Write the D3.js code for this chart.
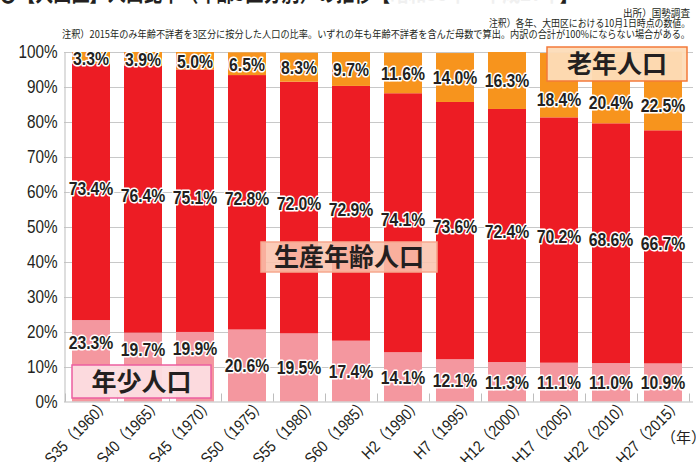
<!DOCTYPE html>
<html lang="ja"><head>
<meta charset="utf-8">
<title>大田区 人口比率の推移</title>
<script src="https://cdnjs.cloudflare.com/ajax/libs/d3/7.8.5/d3.min.js"></script>
<style>
body{margin:0;background:#fff;}
svg text{font-family:"Liberation Sans","Noto Sans CJK JP",sans-serif;fill:#231f20;}
svg text.jp{font-family:"Noto Sans CJK JP",sans-serif;}
.val{font-weight:bold;font-size:19px;stroke:#fff;stroke-width:3px;paint-order:stroke;stroke-linejoin:round;}
</style>
</head>
<body>
<svg id="chart" width="696" height="462"></svg>
<script>
// 年（和暦・西暦）
var years = ["S35（1960）","S40（1965）","S45（1970）","S50（1975）","S55（1980）","S60（1985）",
             "H2（1990）","H7（1995）","H12（2000）","H17（2005）","H22（2010）","H27（2015）"];
// 年少人口・生産年齢人口・老年人口 (%)
var young   = [23.3, 19.7, 19.9, 20.6, 19.5, 17.4, 14.1, 12.1, 11.3, 11.1, 11.0, 10.9];
var working = [73.4, 76.4, 75.1, 72.8, 72.0, 72.9, 74.1, 73.6, 72.4, 70.2, 68.6, 66.7];
var elderly = [ 3.3,  3.9,  5.0,  6.5,  8.3,  9.7, 11.6, 14.0, 16.3, 18.4, 20.4, 22.5];
var yTicks = [0,10,20,30,40,50,60,70,80,90,100];
var seriesNames = ["年少人口","生産年齢人口","老年人口"];

var colors = {young:"#f4979f", working:"#ed1c24", elderly:"#f7941d"};

var svg = d3.select("#chart");

var x = d3.scaleBand().domain(years).range([65, 689])
  .paddingInner(14/52).paddingOuter(7/52);
var y = d3.scaleLinear().domain([0, 100]).range([401.5, 52]);

// title (cut at the top edge)
var title = svg.append("text").attr("class","jp")
  .attr("x", -1).attr("y", 1)
  .style("font-size","22px").style("font-weight","bold")
  .attr("textLength", 579).attr("lengthAdjust","spacingAndGlyphs");
title.append("tspan").text("〇【大田区】人口比率（年齢3区分別）の推移【");
title.append("tspan").style("fill","#f0f0f0").text("昭和35年～平成27年");
title.append("tspan").text("】");

// notes
var notes = [
  {t:"出所）国勢調査", y:17, w:67},
  {t:"注釈）各年、大田区における10月1日時点の数値。", y:27, w:201},
  {t:"注釈）2015年のみ年齢不詳者を3区分に按分した人口の比率。いずれの年も年齢不詳者を含んだ母数で算出。内訳の合計が100%にならない場合がある。", y:37.5, w:628}
];
svg.selectAll(".note").data(notes).enter().append("text")
  .attr("class","jp note")
  .attr("x", function(d){ return 690 - d.w; })
  .attr("y", function(d){ return d.y; })
  .attr("textLength", function(d){ return d.w; })
  .attr("lengthAdjust","spacingAndGlyphs")
  .style("font-size","10px")
  .text(function(d){ return d.t; });

// gridlines
svg.append("g").selectAll("line").data(yTicks.slice(1)).enter().append("line")
  .attr("x1", 64).attr("x2", 693)
  .attr("y1", function(d){ return Math.round(y(d)) + 0.5; })
  .attr("y2", function(d){ return Math.round(y(d)) + 0.5; })
  .attr("stroke", "#c8c8c8").attr("stroke-width", 1);

// stacked bars
var table = years.map(function(yr, i){
  return {year: yr, young: young[i], working: working[i], elderly: elderly[i]};
});
var keys = ["young","working","elderly"];
var stacked = d3.stack().keys(keys)(table);

svg.append("g").selectAll("g").data(stacked).enter().append("g")
  .attr("fill", function(s){ return colors[s.key]; })
  .selectAll("rect").data(function(s){ return s; }).enter().append("rect")
  .attr("x", function(d){ return x(d.data.year); })
  .attr("width", x.bandwidth())
  .attr("y", function(d){ return y(d[1]); })
  .attr("height", function(d){ return y(d[0]) - y(d[1]); });

// axes
var yAxis = svg.append("g").attr("transform","translate(64.5,0)")
  .call(d3.axisLeft(y).tickValues(yTicks).tickFormat(function(d){ return d + "%"; })
    .tickSize(0).tickPadding(8));
yAxis.select(".domain").attr("stroke","#bdbdbd");
yAxis.selectAll("text")
  .attr("transform","scale(0.85,1)")
  .style("font-size","18px").style("font-family", null);

var xAxis = svg.append("g").attr("transform","translate(0," + (y(0) + 0.5) + ")")
  .call(d3.axisBottom(x).tickSize(0).tickFormat(""));
xAxis.select(".domain").attr("d", "M64,0H693").attr("stroke","#bdbdbd");

// rotated category labels
svg.append("g").selectAll("g").data(years).enter().append("g")
  .attr("transform", function(d){
    return "translate(" + (x(d) + x.bandwidth() / 2 + 20) + "," + (y(0) + 4) + ") rotate(-45)";
  })
  .append("text")
  .attr("text-anchor","end")
  .attr("transform","scale(0.88,1)")
  .style("font-size","16px")
  .text(function(d){ return d; });

// category boundary ticks
svg.append("g").selectAll("line").data(d3.range(years.length + 1)).enter().append("line")
  .attr("x1", function(i){ return Math.round(x.range()[0] + i * x.step()) + 0.5; })
  .attr("x2", function(i){ return Math.round(x.range()[0] + i * x.step()) + 0.5; })
  .attr("y1", y(0)).attr("y2", y(0) - 8)
  .attr("stroke","#bdbdbd");

svg.append("text").attr("class","jp")
  .attr("x", 661).attr("y", 443)
  .style("font-size","15px").text("（年）");

// legend boxes (labels placed inside the chart)
var boxes = [
  {name: seriesNames[0], x:72,  y:365, w:139, h:33, fill:"#fcdde1", op:0.95, stroke:"#ec5fa0"},
  {name: seriesNames[1], x:261, y:242, w:176, h:30, fill:"#fac4ae", op:0.88, stroke:"#f6a88e"},
  {name: seriesNames[2], x:547, y:47,  w:140, h:34, fill:"#fddcb8", op:0.95, stroke:"#f37a3a"}
];

// value labels: centred in the segment, moved into the free part if a box would hide them
function labelY(top, bottom, cx){
  var c = (top + bottom) / 2;
  boxes.forEach(function(b){
    if (cx < b.x || cx > b.x + b.w) return;
    var bt = b.y, bb = b.y + b.h;
    if (c + 10 < bt || c - 10 > bb) return;
    if ((bt + bb) / 2 > c) bottom = Math.min(bottom, bt);
    else top = Math.max(top, bb);
    c = (top + bottom) / 2;
  });
  return c;
}

stacked.forEach(function(s){
  svg.append("g").selectAll("g").data(s).enter().append("g")
    .attr("transform", function(d){
      var cx = x(d.data.year) + x.bandwidth() / 2;
      var off = s.key === "working" ? -4 : 0;
      return "translate(" + cx + "," + (labelY(y(d[1]), y(d[0]), cx) + off) + ")";
    })
    .append("text")
    .attr("class","val")
    .attr("text-anchor","middle")
    .attr("dy","0.36em")
    .attr("transform","scale(0.83,1)")
    .text(function(d){ return d.data[s.key].toFixed(1) + "%"; });
});

var lg = svg.append("g").selectAll("g").data(boxes).enter().append("g");
lg.append("rect")
  .attr("x", function(d){ return d.x; }).attr("y", function(d){ return d.y; })
  .attr("width", function(d){ return d.w; }).attr("height", function(d){ return d.h; })
  .attr("fill", function(d){ return d.fill; })
  .attr("fill-opacity", function(d){ return d.op; })
  .attr("stroke", function(d){ return d.stroke; }).attr("stroke-width", 1.5);
lg.append("text").attr("class","jp")
  .attr("x", function(d){ return d.x + d.w / 2; })
  .attr("y", function(d){ return d.y + d.h / 2; })
  .attr("dy","0.36em")
  .attr("text-anchor","middle")
  .style("font-size","25px").style("font-weight","bold")
  .text(function(d){ return d.name; });
</script>
</body></html>
